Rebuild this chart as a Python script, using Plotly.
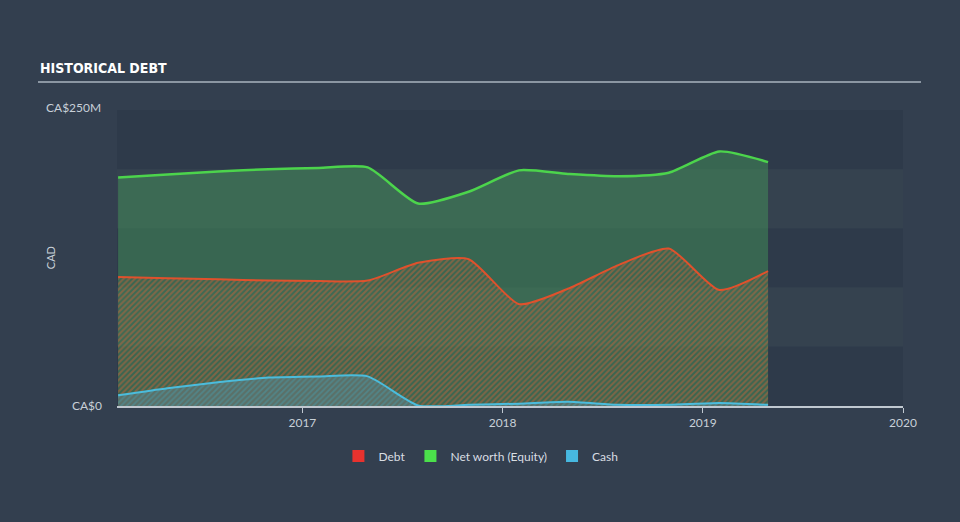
import plotly.graph_objects as go

dates = ["2016-01-31", "2016-04-30", "2016-07-31", "2016-10-31", "2017-01-31",
         "2017-04-30", "2017-07-31", "2017-10-31", "2018-01-31", "2018-04-30",
         "2018-07-31", "2018-10-31", "2019-01-31", "2019-04-30"]
net_worth = [193, 195.5, 198, 200, 201, 201.5, 171, 181, 199, 196, 194, 197, 215, 206]
debt = [109, 108, 107, 106, 105.5, 106, 121, 124, 86, 99, 119, 133, 98, 114]
cash = [9, 15, 20, 24, 25, 25, 0.5, 1, 2, 3.5, 1, 1, 2.5, 1]
year_ticks = ["2017-01-01", "2018-01-01", "2019-01-01", "2020-01-01"]
year_labels = ["2017", "2018", "2019", "2020"]
legend_names = ["Debt", "Net worth (Equity)", "Cash"]
legend_colors = ["#e8322e", "#4be04b", "#47b8e0"]

fig = go.Figure()

fig.add_trace(go.Scatter(x=dates, y=net_worth, mode="lines", fill="tozeroy",
                         line=dict(color="#4cd44c", width=2.5, shape="spline", smoothing=0.6),
                         fillcolor="rgba(70,160,90,0.43)", showlegend=False, hoverinfo="skip"))
fig.add_trace(go.Scatter(x=dates, y=debt, mode="lines", fill="tozeroy",
                         line=dict(color="#e0512c", width=2, shape="spline", smoothing=0.6),
                         fillcolor="rgba(0,0,0,0)",
                         fillpattern=dict(shape="/", fgcolor="#c8643a", bgcolor="rgba(0,0,0,0)",
                                          size=4, solidity=0.5),
                         showlegend=False, hoverinfo="skip"))
fig.add_trace(go.Scatter(x=dates, y=cash, mode="lines", fill="tozeroy",
                         line=dict(color="#4bbcdc", width=2, shape="spline", smoothing=0.6),
                         fillcolor="rgba(0,0,0,0)",
                         fillpattern=dict(shape="/", fgcolor="#4a9aa8", bgcolor="#5a7068",
                                          size=4, solidity=0.45),
                         showlegend=False, hoverinfo="skip"))

for name, c in zip(legend_names, legend_colors):
    fig.add_trace(go.Scatter(x=[None], y=[None], mode="markers", name=name,
                             marker=dict(symbol="square", size=14, color=c)))

fig.update_layout(
    width=960, height=522,
    margin=dict(l=117, r=57, t=110, b=116),
    paper_bgcolor="#333f4f",
    plot_bgcolor="rgba(0,0,0,0)",
    font=dict(family="Lato, Open Sans, sans-serif", color="#c8d0d8", size=12),
    showlegend=True,
    legend=dict(orientation="h", x=0.463, xanchor="center", y=-0.12, yanchor="top",
                font=dict(size=12, color="#d8dde2"), itemsizing="constant",
                bgcolor="rgba(0,0,0,0)"),
    xaxis=dict(type="date", range=["2016-01-29", "2020-01-01"], showgrid=False,
               zeroline=False, showline=True, linecolor="#c0c8d0", linewidth=1.5,
               tickvals=year_ticks, ticktext=year_labels, ticks="outside",
               ticklen=5, tickcolor="#c0c8d0", tickfont=dict(size=12, color="#c8d0d8")),
    yaxis=dict(range=[0, 250], showgrid=False, zeroline=False, showline=False,
               tickvals=[0], ticktext=["CA$0"], ticks="", ticklabelstandoff=14,
               tickfont=dict(size=12, color="#c8d0d8")),
    annotations=[
        dict(text="<b>HISTORICAL DEBT</b>", xref="paper", yref="paper", x=-0.1005, y=1.0 + 42/296,
             xanchor="left", yanchor="middle", showarrow=False,
             font=dict(family="DejaVu Sans Condensed, Liberation Sans Narrow, sans-serif",
                       size=14, color="#ffffff")),
        dict(text="CA$250M", xref="paper", yref="paper", x=-0.0925, y=1.0 + 2/296,
             xanchor="left", yanchor="middle", showarrow=False,
             font=dict(size=12, color="#c8d0d8")),
        dict(text="CAD", xref="paper", yref="paper", x=-0.085, y=0.5,
             xanchor="center", yanchor="middle", showarrow=False, textangle=-90,
             font=dict(size=11, color="#c8d0d8")),
    ],
)

# horizontal bands
bands = [(200, 250, "#2e3a4a"), (150, 200, "#35424f"), (100, 150, "#2e3a4a"),
         (50, 100, "#35424f"), (0, 50, "#2e3a4a")]
for y0, y1, c in bands:
    fig.add_shape(type="rect", xref="paper", yref="y", x0=0, x1=1,
                  y0=y0, y1=y1, fillcolor=c, line_width=0, layer="below")

fig.add_shape(type="line", xref="paper", yref="paper", x0=-0.1005, x1=1.0229,
              y0=1.0 + 28/296, y1=1.0 + 28/296, line=dict(color="#aab4be", width=1.5))

fig.write_html("out.html")
